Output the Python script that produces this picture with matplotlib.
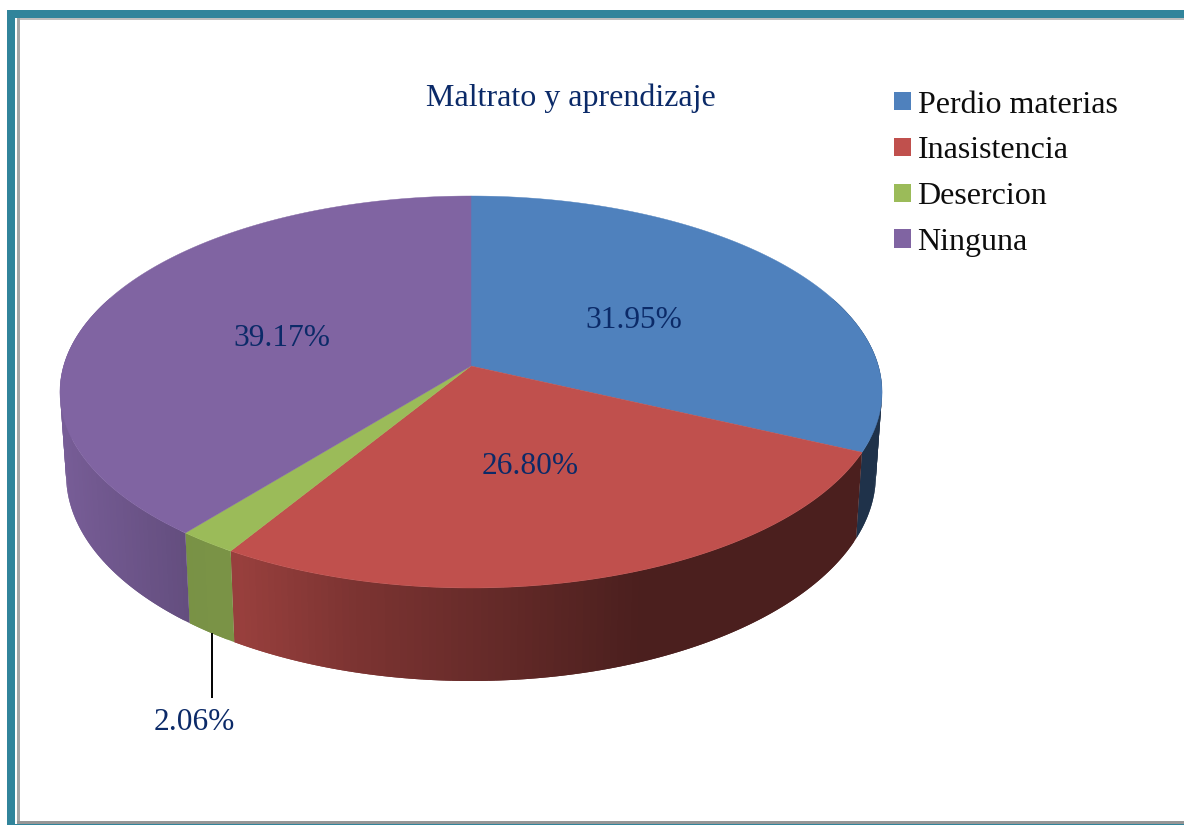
import numpy as np
import matplotlib
matplotlib.use("Agg")
import matplotlib.pyplot as plt
from matplotlib.patches import Polygon, Rectangle, Patch

title = "Maltrato y aprendizaje"
categories = ["Perdio materias", "Inasistencia", "Desercion", "Ninguna"]
values = [31.95, 26.80, 2.06, 39.17]
labels = ["31.95%", "26.80%", "2.06%", "39.17%"]
label_pos = [(634, 321), (530, 467), (194, 722), (282, 339)]
colors = ["#4F81BD", "#C0504D", "#9BBB59", "#8064A2"]
TEXT = "#0B2A68"
plt.rcParams["font.family"] = ["Liberation Serif", "DejaVu Serif"]

fig = plt.figure(figsize=(11.84, 8.25), dpi=100)
ax = fig.add_axes([0, 0, 1, 1])
ax.set_xlim(0, 1184)
ax.set_ylim(825, 0)
ax.axis("off")

# frame
teal = "#31849B"
ax.add_patch(Rectangle((7, 10), 1177, 8, fc=teal, ec="none"))
ax.add_patch(Rectangle((7, 10), 8, 815, fc=teal, ec="none"))
ax.add_patch(Rectangle((15, 824), 1169, 1, fc=teal, ec="none"))
ax.add_patch(Rectangle((17, 18), 1167, 2, fc="#BDBDBD", ec="none"))
ax.add_patch(Rectangle((17, 18), 3, 805, fc="#A6A6A6", ec="none"))
ax.add_patch(Rectangle((17, 821), 1167, 2.5, fc="#969696", ec="none"))

# perspective projection of the pie disc
CX, APEX_Y, A, C, R = 471.0, 366.0, -144.0, 52 / 392, 407.4


def top(theta, r=1.0):
    u, v = r * np.sin(theta), r * np.cos(theta)
    d = 1 + C * v
    return CX + R * u / d, (APEX_Y + A * v) / d


def bottom(theta):
    x, y = top(theta)
    return CX + (x - CX) * 0.985, 475 + (y - 392) * 1.051


def shade(x):
    return np.interp(x, [60, 185, 240, 350, 500, 640, 900],
                     [0.93, 0.78, 0.79, 0.65, 0.52, 0.39, 0.39])


total = sum(values)
edges = 2 * np.pi * np.cumsum([0] + values) / total
rgb = [np.array(matplotlib.colors.to_rgb(c)) for c in colors]

# side walls (each strip overlaps the next one so no seams show)
for i in range(len(values)):
    ts = np.linspace(edges[i], edges[i + 1], max(3, int(values[i] * 4)))
    for k in range(len(ts) - 1):
        t0 = ts[k]
        t_end = ts[min(k + 2, len(ts) - 1)]
        if np.cos(t0) > 0.35 and np.cos(t_end) > 0.35:
            continue
        arc = np.linspace(t0, t_end, 12)
        xt, yt = top(arc)
        xb, yb = bottom(arc)
        pts = np.column_stack([np.r_[xt, xb[::-1]], np.r_[yt, yb[::-1]]])
        col = np.clip(rgb[i] * shade(top((ts[k] + ts[k + 1]) / 2)[0]), 0, 1)
        ax.add_patch(Polygon(pts, closed=True, fc=col, ec="none", zorder=2))

# top faces
for i in range(len(values)):
    ts = np.linspace(edges[i], edges[i + 1], 200)
    x, y = top(ts)
    pts = np.column_stack([np.r_[CX, x], np.r_[APEX_Y, y]])
    ax.add_patch(Polygon(pts, closed=True, fc=colors[i], ec=colors[i], lw=0.3, zorder=3))

# leader line of the small slice
mid = (edges[2] + edges[3]) / 2
lx, ly = bottom(mid)
ax.plot([lx + 1, lx + 1], [ly, 698], color="black", lw=1.4, zorder=4, solid_capstyle="butt")

for s, (x, y) in zip(labels, label_pos):
    ax.text(x, y, s, ha="center", va="center", fontsize=22.6, color=TEXT, zorder=5)
ax.text(570.5, 98, title, ha="center", va="center", fontsize=23, color=TEXT)

handles = [Patch(fc=c, ec="none") for c in colors]
leg = ax.legend(handles, categories, loc="upper left", bbox_to_anchor=(884 / 1184, 1 - 81 / 825),
                frameon=False, fontsize=23, labelspacing=0.525, handlelength=0.53,
                handleheight=0.5, handletextpad=0.22, borderpad=0.3, borderaxespad=0)
for t in leg.get_texts():
    t.set_color("#0D0D0D")

fig.savefig("out.png", dpi=100)
